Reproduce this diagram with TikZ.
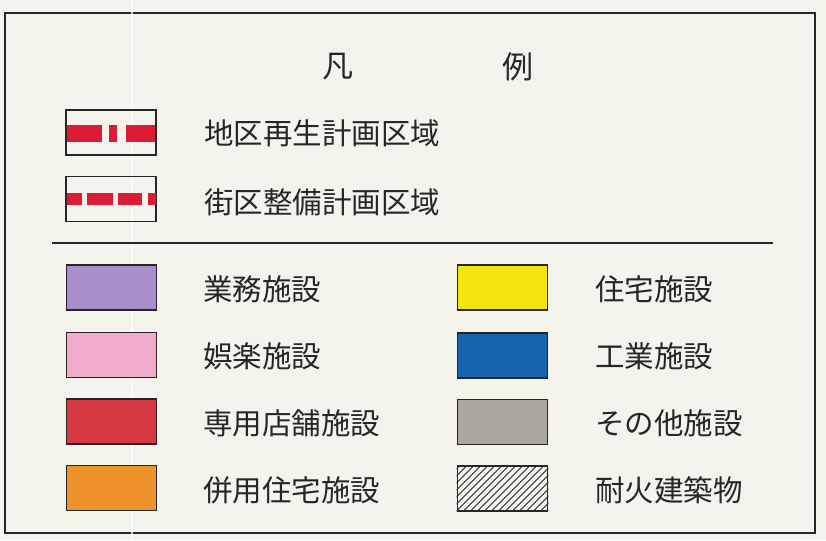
\documentclass[tikz,border=0pt]{standalone}
\usepackage{fontspec}
\usetikzlibrary{calc}
\setmainfont{Noto Sans CJK JP}
\newfontfamily\jpfont{Noto Sans CJK JP}
\definecolor{paper}{RGB}{244,243,236}
\definecolor{ink}{RGB}{40,38,36}
\definecolor{cpurple}{RGB}{168,142,202}
\definecolor{cpink}{RGB}{240,172,202}
\definecolor{cred}{RGB}{214,56,66}
\definecolor{corange}{RGB}{238,146,44}
\definecolor{cyellow}{RGB}{242,228,12}
\definecolor{cblue}{RGB}{22,100,176}
\definecolor{cgray}{RGB}{170,168,156}
\definecolor{cline}{RGB}{218,28,52}
\tikzset{
  swatch/.style={draw=ink, line width=1.8pt, minimum width=90pt, minimum height=45pt, inner sep=0pt},
  lbl/.style={anchor=west, text=ink, inner sep=0pt, font=\jpfont\fontsize{29.5}{29.5}\selectfont},
  ttl/.style={text=ink, inner sep=0pt, font=\jpfont\fontsize{31}{31}\selectfont},
  band/.style={fill=cline, draw=none}
}
\begin{document}
\begin{tikzpicture}[x=1pt,y=-1pt]
\useasboundingbox (0,0) rectangle (826,540);
\fill[paper] (0,0) rectangle (826,540);
% frame
\draw[ink, line width=2.2pt] (5,13) rectangle (815,533);
% fold line
\draw[white, line width=2.5pt, opacity=0.75] (132,0) -- (132,540);
% title
\node[ttl] (t1) at (338,67) {凡};
\node[ttl] (t2) at (518,67) {例};
% district boxes
\node[swatch] (d1) at (111,132.5) {};
\fill[band] (67,125) rectangle (102,142);
\fill[band] (109,125) rectangle (117,142);
\fill[band] (126,125) rectangle (155,142);
\node[lbl] (d1t) at (204,133) {地区再生計画区域};
\node[swatch] (d2) at (111,199) {};
\fill[band] (67,193) rectangle (82,205);
\fill[band] (87,193) rectangle (113,205);
\fill[band] (118,193) rectangle (142,205);
\fill[band] (148,193) rectangle (156,205);
\node[lbl] (d2t) at (204,202) {街区整備計画区域};
% separator
\coordinate (sL) at (52,243);
\coordinate (sR) at (773,243);
\draw[ink, line width=1.8pt] (sL) -- (sR);
% left column
\node[swatch, fill=cpurple] (p1) at (111.5,287.5) {};
\node[lbl] (p1t) at (203,289) {業務施設};
\node[swatch, fill=cpink] (p2) at (111.5,355) {};
\node[lbl] (p2t) at (203,356) {娯楽施設};
\node[swatch, fill=cred] (p3) at (111.5,421.5) {};
\node[lbl] (p3t) at (203,423) {専用店舗施設};
\node[swatch, fill=corange] (p4) at (111.5,488) {};
\node[lbl] (p4t) at (203,490) {併用住宅施設};
% right column
\node[swatch, fill=cyellow] (q1) at (502.5,287.5) {};
\node[lbl] (q1t) at (595,289) {住宅施設};
\node[swatch, fill=cblue] (q2) at (502.5,355.5) {};
\node[lbl] (q2t) at (595,356) {工業施設};
\node[swatch, fill=cgray] (q3) at (502.5,422) {};
\node[lbl] (q3t) at (595,423) {その他施設};
\node[swatch] (q4) at (502.5,488.5) {};
\begin{scope}
  \clip (q4.north west) rectangle (q4.south east);
  \foreach \k in {0,...,22} {
    \draw[ink, line width=1pt] ($(q4.south west)+(\k*7-50,0)$) -- ++(60,-60);
  }
\end{scope}
\node[swatch] at (q4) {};
\node[lbl] (q4t) at (595,490) {耐火建築物};
\end{tikzpicture}
\end{document}
